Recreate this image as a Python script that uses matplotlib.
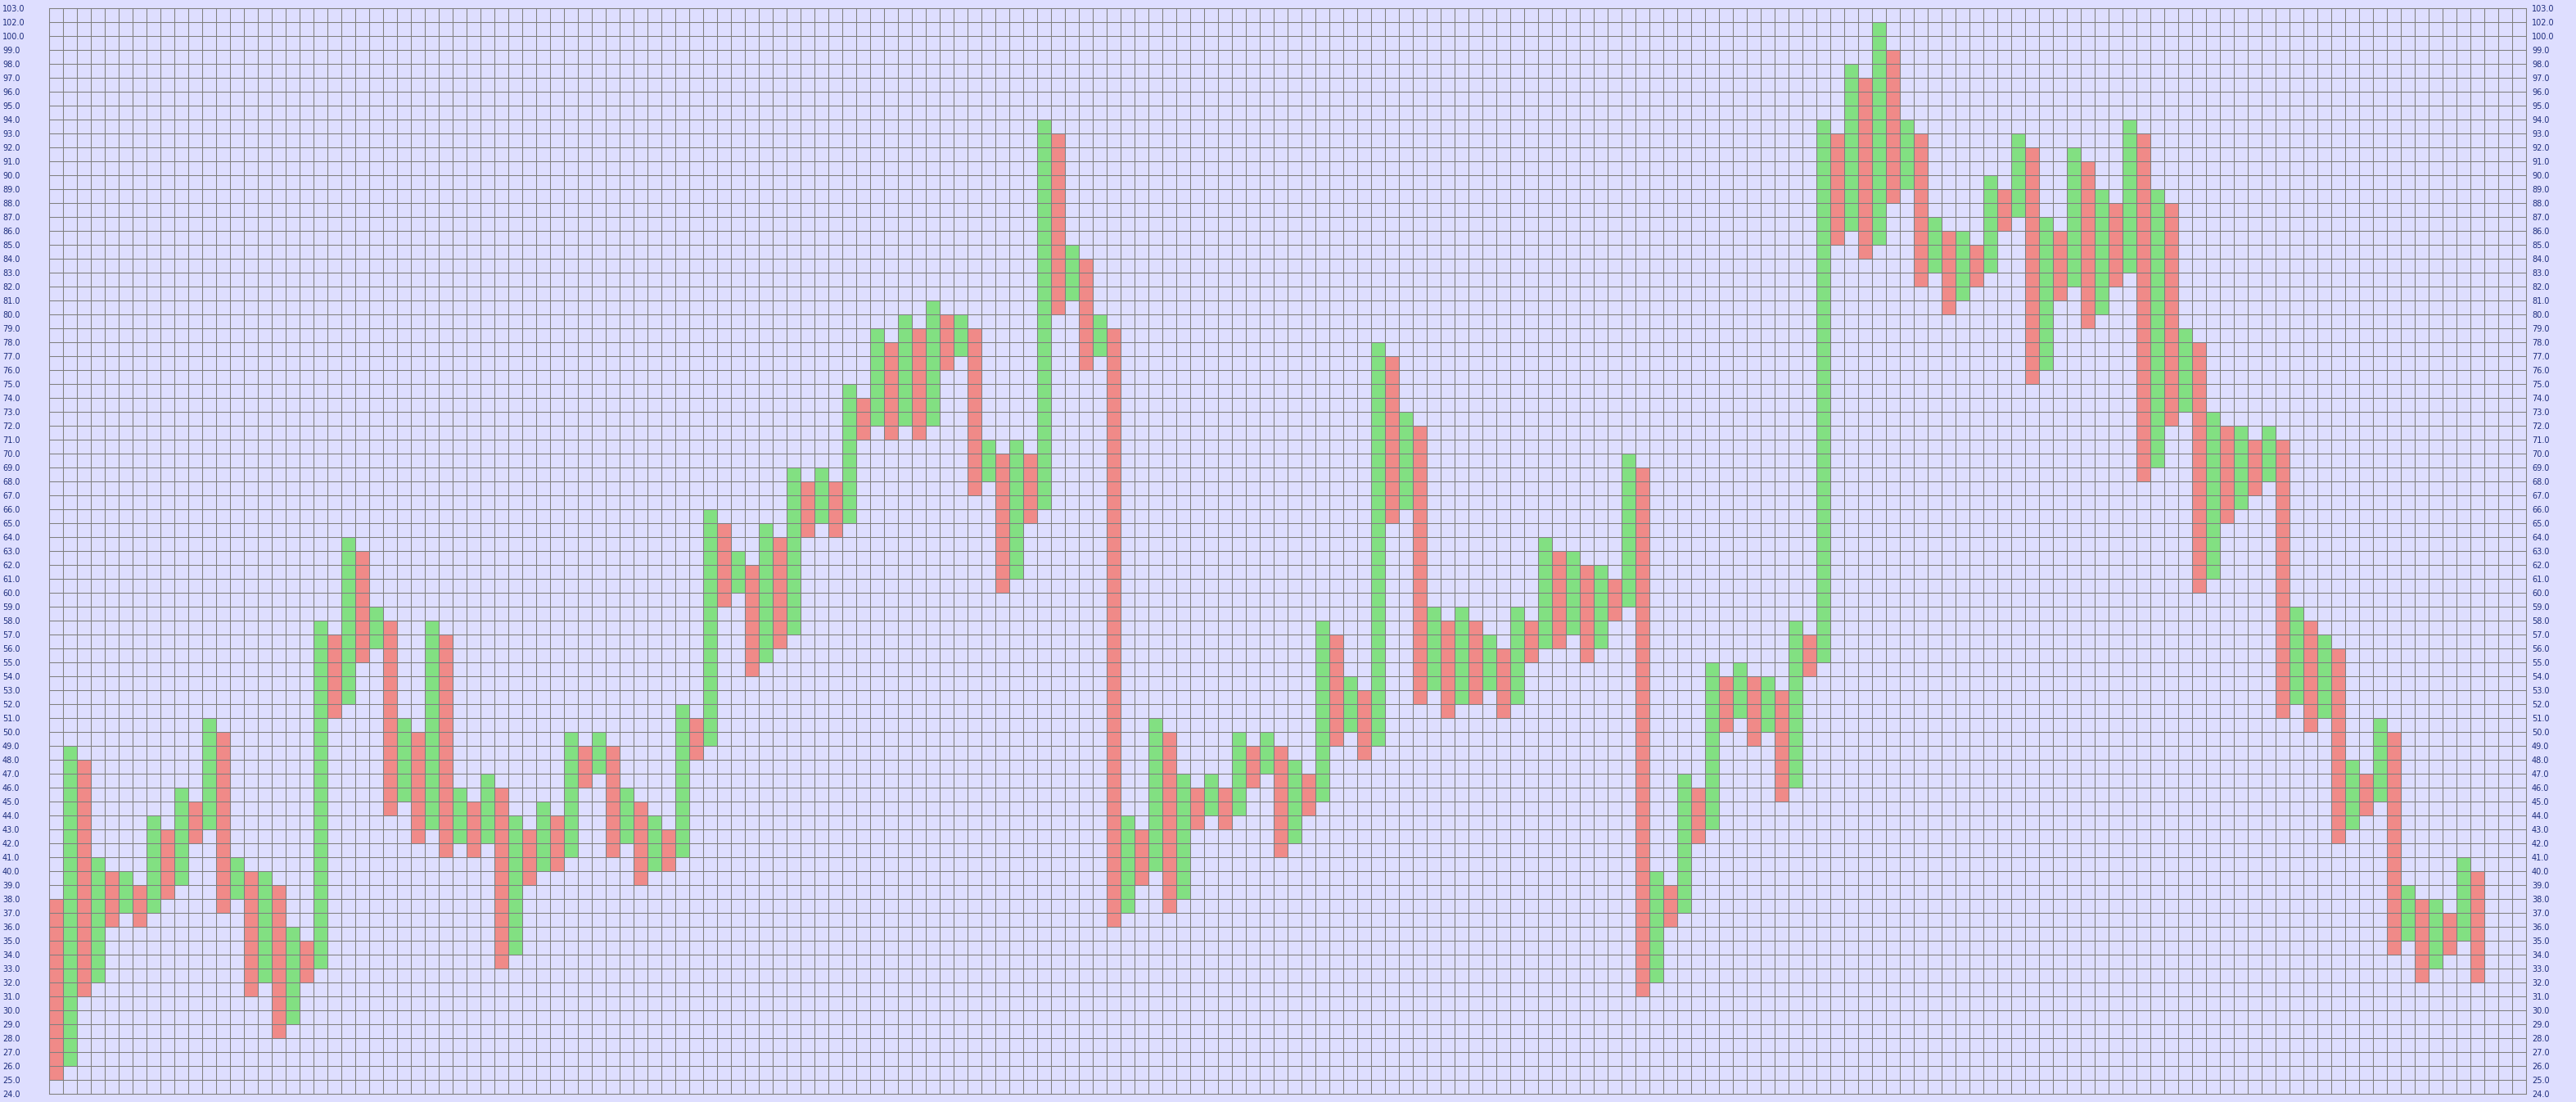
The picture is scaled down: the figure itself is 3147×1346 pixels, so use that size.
import numpy as np
import matplotlib
matplotlib.use("Agg")
import matplotlib.pyplot as plt

# one column per swing, alternating falling (red) / rising (green), first column falling
lows = [25, 26, 31, 32, 36, 37, 36, 37, 38, 39, 42, 43, 37, 38, 31, 32, 28, 29, 32, 33,
        51, 52, 55, 56, 44, 45, 42, 43, 41, 42, 41, 42, 33, 34, 39, 40, 40, 41, 46, 47,
        41, 42, 39, 40, 40, 41, 48, 49, 59, 60, 54, 55, 56, 57, 64, 65, 64, 65, 71, 72,
        71, 72, 71, 72, 76, 77, 67, 68, 60, 61, 65, 66, 80, 81, 76, 77, 36, 37, 39, 40,
        37, 38, 43, 44, 43, 44, 46, 47, 41, 42, 44, 45, 49, 50, 48, 49, 65, 66, 52, 53,
        51, 52, 52, 53, 51, 52, 55, 56, 56, 57, 55, 56, 58, 59, 31, 32, 36, 37, 42, 43,
        50, 51, 49, 50, 45, 46, 54, 55, 85, 86, 84, 85, 88, 89, 82, 83, 80, 81, 82, 83,
        86, 87, 75, 76, 81, 82, 79, 80, 82, 83, 68, 69, 72, 73, 60, 61, 65, 66, 67, 68,
        51, 52, 50, 51, 42, 43, 44, 45, 34, 35, 32, 33, 34, 35, 32]
highs = [38, 49, 48, 41, 40, 40, 39, 44, 43, 46, 45, 51, 50, 41, 40, 40, 39, 36, 35, 58,
         57, 64, 63, 59, 58, 51, 50, 58, 57, 46, 45, 47, 46, 44, 43, 45, 44, 50, 49, 50,
         49, 46, 45, 44, 43, 52, 51, 66, 65, 63, 62, 65, 64, 69, 68, 69, 68, 75, 74, 79,
         78, 80, 79, 81, 80, 80, 79, 71, 70, 71, 70, 94, 93, 85, 84, 80, 79, 44, 43, 51,
         50, 47, 46, 47, 46, 50, 49, 50, 49, 48, 47, 58, 57, 54, 53, 78, 77, 73, 72, 59,
         58, 59, 58, 57, 56, 59, 58, 64, 63, 63, 62, 62, 61, 70, 69, 40, 39, 47, 46, 55,
         54, 55, 54, 54, 53, 58, 57, 94, 93, 98, 97, 101, 99, 94, 93, 87, 86, 86, 85, 90,
         89, 93, 92, 87, 86, 92, 91, 89, 88, 94, 93, 89, 88, 79, 78, 73, 72, 72, 71, 72,
         71, 59, 58, 57, 56, 48, 47, 51, 50, 39, 38, 38, 37, 41, 40]

n_slots = 178
y_min, y_max = 24, 102
# the printed scale skips 101: the two top grid lines read 102.0 and 103.0
y_labels = ["%.1f" % v for v in range(24, 101)] + ["102.0", "103.0"]

bg = "#dedeff"
up_color = "#82e082"
down_color = "#f08a88"
grid_color = "#808080"
label_color = "#1c2c7c"

lows = np.array(lows)
highs = np.array(highs)
cols = np.arange(len(lows))
colors = [down_color if i % 2 == 0 else up_color for i in cols]

W, H = 3147, 1346
fig = plt.figure(figsize=(W / 100, H / 100), dpi=100, facecolor=bg)
ax = fig.add_axes([60 / W, 10 / H, 3026 / W, 1326 / H])
ax.set_facecolor(bg)

ax.bar(cols, highs - lows, bottom=lows, width=1, align="edge",
       color=colors, linewidth=0, zorder=1)

ax.set_xlim(0, n_slots)
ax.set_ylim(y_min, y_max)
ax.set_xticks(np.arange(0, n_slots + 1))
ax.set_yticks(np.arange(y_min, y_max + 1))
ax.set_yticklabels(y_labels)
ax.set_axisbelow(False)
ax.grid(True, color=grid_color, linewidth=0.75)
ax.tick_params(axis="x", length=0, labelbottom=False)
ax.tick_params(axis="y", length=0, pad=41, labelsize=7, labelcolor=label_color)
for lab in ax.get_yticklabels():
    lab.set_horizontalalignment("left")
for sp in ax.spines.values():
    sp.set_color(grid_color)
    sp.set_linewidth(0.75)

ax2 = ax.twinx()
ax2.set_ylim(y_min, y_max)
ax2.set_yticks(np.arange(y_min, y_max + 1))
ax2.set_yticklabels(y_labels)
ax2.tick_params(axis="y", length=0, pad=5, labelsize=7, labelcolor=label_color)
for sp in ax2.spines.values():
    sp.set_visible(False)

fig.savefig("out.png", dpi=100, facecolor=bg)
